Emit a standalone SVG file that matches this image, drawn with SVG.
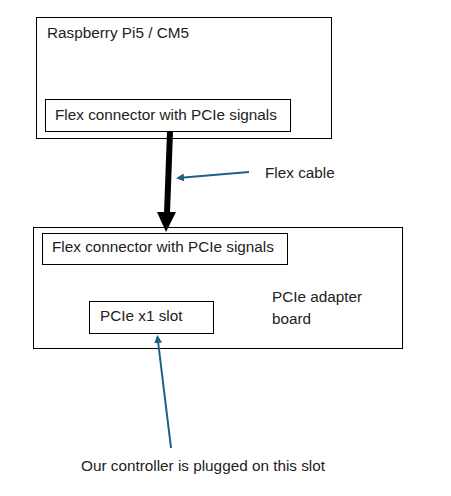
<svg xmlns="http://www.w3.org/2000/svg" width="451" height="496" viewBox="0 0 451 496">
<style>
.box{fill:#fff;stroke:#000;stroke-width:1}
.t{font-family:"Liberation Sans",Arial,sans-serif;font-size:15.3px;fill:#222}
.blue{stroke:#1f6086;stroke-width:2;fill:none}
</style>
<defs>
<marker id="bh" markerWidth="8" markerHeight="8" refX="6" refY="4" orient="auto" markerUnits="userSpaceOnUse">
<path d="M0,0 L8,4 L0,8 Z" fill="#1f6086"/>
</marker>
</defs>
<rect width="451" height="496" fill="#fff"/>
<g id="pi5">
<rect class="box" x="36.5" y="17.5" width="295" height="121"/>
<text class="t" x="47" y="38">Raspberry Pi5 / CM5</text>
</g>
<g id="flex1">
<rect class="box" x="45.5" y="99.5" width="245" height="32"/>
<text class="t" x="55" y="120">Flex connector with PCIe signals</text>
</g>
<g id="adapter">
<rect class="box" x="33.5" y="227.5" width="369" height="121"/>
<text class="t" x="272" y="302">PCIe adapter</text>
<text class="t" x="272" y="324">board</text>
</g>
<g id="flex2">
<rect class="box" x="42.5" y="233.5" width="245" height="31"/>
<text class="t" x="52" y="252">Flex connector with PCIe signals</text>
</g>
<g id="slot">
<rect class="box" x="89.5" y="301.5" width="124" height="32"/>
<text class="t" x="100" y="321">PCIe x1 slot</text>
</g>
<g id="labels">
<text class="t" x="265" y="178">Flex cable</text>
<text class="t" x="81" y="471">Our controller is plugged on this slot</text>
</g>
<g id="connectors">
<line x1="170" y1="132" x2="167" y2="213" stroke="#000" stroke-width="6"/>
<path d="M157,212 L176,212 L166,232 Z" fill="#000"/>
<line class="blue" x1="249" y1="172" x2="178" y2="178" marker-end="url(#bh)"/>
<line class="blue" x1="171" y1="448" x2="157.5" y2="337" marker-end="url(#bh)"/>
</g>
</svg>
